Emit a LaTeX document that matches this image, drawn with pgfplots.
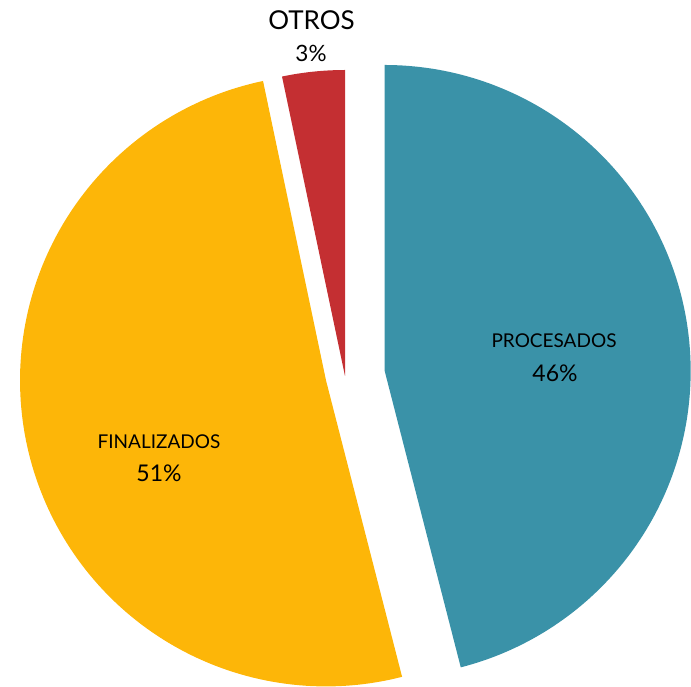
\documentclass[border=0pt]{standalone}
\usepackage{pgfplots}
\pgfplotsset{compat=1.18}
\usepackage{fontspec}
\setmainfont{Lato}
\definecolor{cP}{HTML}{3A92A8}
\definecolor{cF}{HTML}{FDB608}
\definecolor{cO}{HTML}{C42F32}
% data (percent shares)
\def\vP{46.0}\def\vF{50.7}\def\vO{3.3}
% geometry
\def\R{306}\def\cx{345}\def\cy{311}
\pgfmathsetmacro\aP{90-3.6*\vP}
\pgfmathsetmacro\aF{\aP-3.6*\vF}
\pgfmathsetmacro\aO{\aF-3.6*\vO}
\pgfmathsetmacro\mP{(90+\aP)/2}
\pgfmathsetmacro\mF{(\aP+\aF)/2}
\pgfmathsetmacro\cxP{\cx+40*cos(\mP)}
\pgfmathsetmacro\cyP{\cy+40*sin(\mP)}
\pgfmathsetmacro\cxF{\cx+19.5*cos(\mF)}
\pgfmathsetmacro\cyF{\cy+19.5*sin(\mF)}
\begin{document}
\begin{tikzpicture}
\begin{axis}[scale only axis, width=691pt, height=687pt,
  xmin=0, xmax=691, ymin=0, ymax=687, hide axis, clip=false]
\path (rel axis cs:0,0) rectangle (rel axis cs:1,1);
\addplot[fill=cP, draw=none, domain=\aP:90, samples=150, variable=\t]
  ({\cxP+\R*cos(\t)},{\cyP+\R*sin(\t)}) -- (axis cs:\cxP,\cyP) -- cycle;
\addplot[fill=cF, draw=none, domain=\aF:\aP, samples=150, variable=\t]
  ({\cxF+\R*cos(\t)},{\cyF+\R*sin(\t)}) -- (axis cs:\cxF,\cyF) -- cycle;
\addplot[fill=cO, draw=none, domain=\aO:\aF, samples=30, variable=\t]
  ({\cx+\R*cos(\t)},{\cy+\R*sin(\t)}) -- (axis cs:\cx,\cy) -- cycle;
\node[anchor=base, inner sep=0pt, font=\fontsize{19}{22}\selectfont] at (axis cs:554,{687-347.7}) {PROCESADOS};
\node[anchor=base, inner sep=0pt, font=\fontsize{23}{27}\selectfont] at (axis cs:555,{687-381.7}) {46\%};
\node[anchor=base, inner sep=0pt, font=\fontsize{19}{22}\selectfont] at (axis cs:159,{687-448.3}) {FINALIZADOS};
\node[anchor=base, inner sep=0pt, font=\fontsize{23}{27}\selectfont] at (axis cs:159,{687-481.7}) {51\%};
\node[anchor=base, inner sep=0pt, font=\fontsize{26}{30}\selectfont] at (axis cs:311.5,{687-29.3}) {OTROS};
\node[anchor=base, inner sep=0pt, font=\fontsize{22.5}{26}\selectfont] at (axis cs:311,{687-61.7}) {3\%};
\end{axis}
\end{tikzpicture}
\end{document}
